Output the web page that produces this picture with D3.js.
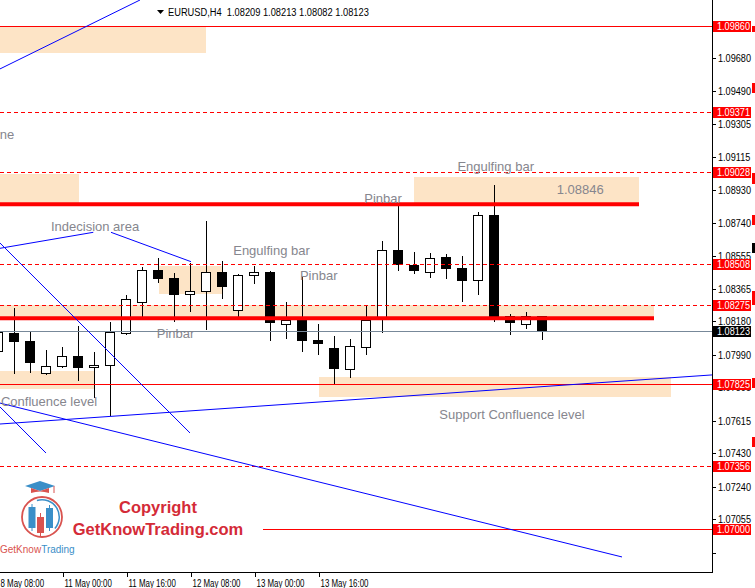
<!DOCTYPE html>
<html lang="en">
<head>
<meta charset="utf-8">
<script src="https://d3js.org/d3.v7.min.js"></script>
<style>
  body { margin: 0; background: #fff; }
  #plot { width: 755px; height: 588px; }
  svg text { font-family: "Liberation Sans", Arial, sans-serif; }
</style>
</head>
<body>
<div id="plot"></div>
<script>
// EURUSD H4 bars, first one is 8 May 08:00
const opens  = [1.08012, 1.08116, 1.08069, 1.07889, 1.07929, 1.07984, 1.07919, 1.07931, 1.08113, 1.08289, 1.08473, 1.08427, 1.08334, 1.08353, 1.08460, 1.08244, 1.08446, 1.08460, 1.08164, 1.08188, 1.08075, 1.08027, 1.07911, 1.08033, 1.08204, 1.08586, 1.08499, 1.08460, 1.08545, 1.08484, 1.08414, 1.08784, 1.08211, 1.08164, 1.08209];
const highs  = [1.08137, 1.08258, 1.08118, 1.08018, 1.08037, 1.08156, 1.08005, 1.08175, 1.08331, 1.08491, 1.08539, 1.08454, 1.08514, 1.08751, 1.08524, 1.08449, 1.08495, 1.08467, 1.08289, 1.08435, 1.08166, 1.08097, 1.08080, 1.08272, 1.08637, 1.08846, 1.08575, 1.08568, 1.08564, 1.08552, 1.08802, 1.08956, 1.08222, 1.08232, 1.08213];
const lows   = [1.08001, 1.07889, 1.07893, 1.07884, 1.07923, 1.07847, 1.07752, 1.07648, 1.08109, 1.08204, 1.08406, 1.08184, 1.08241, 1.08140, 1.08315, 1.08207, 1.08400, 1.08075, 1.08088, 1.08014, 1.07993, 1.07832, 1.07864, 1.07993, 1.08118, 1.08473, 1.08457, 1.08435, 1.08429, 1.08298, 1.08338, 1.08184, 1.08107, 1.08145, 1.08082];
const closes = [1.08118, 1.08065, 1.07946, 1.07927, 1.07984, 1.07917, 1.07932, 1.08118, 1.08306, 1.08473, 1.08423, 1.08332, 1.08353, 1.08460, 1.08378, 1.08443, 1.08460, 1.08170, 1.08188, 1.08071, 1.08050, 1.07910, 1.08040, 1.08188, 1.08586, 1.08499, 1.08469, 1.08539, 1.08480, 1.08412, 1.08784, 1.08207, 1.08173, 1.08211, 1.08123];

// time axis (bar index -> label)
const timeTicks  = [0, 4, 8, 12, 16, 20];
const timeLabels = ["8 May 08:00", "11 May 00:00", "11 May 16:00", "12 May 08:00", "13 May 00:00", "13 May 16:00"];

// price axis
const priceTicks = [1.09680, 1.09490, 1.09305, 1.09115, 1.08930, 1.08740, 1.08555, 1.08365, 1.08180, 1.07990, 1.07805, 1.07615, 1.07430, 1.07240, 1.07055];
const bareTicks  = [1.06865];

// horizontal levels
const solidLevels  = [1.09860, 1.07825, 1.07000];
const solidFrom    = [-5, -5, 16.5];
const dashedLevels = [1.09371, 1.09028, 1.08508, 1.08275, 1.07356];
const thickLevels  = [1.08846, 1.08198];
const thickTo      = [40, 41];
const redTags      = [1.09860, 1.09371, 1.09028, 1.08508, 1.08275, 1.07825, 1.07356, 1.07000];
const bidPrice     = 1.08123;

// supply / demand zones (bar index from/to, price high/low)
const zoneFrom = [-5, -5, 26, 10, -5, -5, 20];
const zoneTo   = [13, 5, 40, 14, 41, 6, 42];
const zoneHigh = [1.09860, 1.09019, 1.09003, 1.08495, 1.08274, 1.07897, 1.07864];
const zoneLow  = [1.09708, 1.08855, 1.08852, 1.08336, 1.08198, 1.07794, 1.07752];

// blue trend lines
const trendI1 = [0.094, 0.094, 7.031, 0.094, 0.094, 0.094, 0.094];
const trendP1 = [1.09616, 1.08596, 1.08687, 1.08626, 1.07694, 1.07716, 1.07597];
const trendI2 = [8.844, 5.925, 12.031, 11.969, 2.969, 38.969, 44.594];
const trendP2 = [1.10008, 1.08687, 1.08520, 1.07546, 1.07432, 1.06841, 1.07876];

// text notes
const noteText = ["Indecision area", "Pinbar", "Engulfing bar", "Pinbar", "Pinbar", "Engulfing bar", "1.08846", "Support Confluence level", "Confluence level", "Trend line"];
const noteI    = [3.28, 9.89, 14.67, 18.84, 22.86, 28.68, 34.89, 27.55, 0.156, 0.987];
const noteP    = [1.08720, 1.08112, 1.08581, 1.08441, 1.08882, 1.09064, 1.08931, 1.07654, 1.07724, 1.09244];

// little price marks on the right edge
const edgeTop   = [1.09860, 1.09536, 1.09024, 1.08785, 1.08626, 1.08353, 1.07859, 1.07523];
const edgeBot   = [1.09826, 1.09479, 1.08962, 1.08728, 1.08569, 1.08274, 1.07802, 1.07466];
const edgeColor = ["red", "red", "red", "red", "black", "red", "red", "red"];

const W = 755, H = 588, plotR = 712, plotB = 572;

const svg = d3.select("#plot").append("svg")
    .attr("width", W)
    .attr("height", H);

const x = d3.scaleLinear().domain([0, 34]).range([-1.5, 542.5]);
const y = d3.scaleLinear().domain([1.07000, 1.09860]).range([529, 26]);
const sy = p => Math.round(y(p)) + 0.5;
const ry = p => Math.round(y(p));

svg.append("defs").append("clipPath").attr("id", "clip")
  .append("rect").attr("width", plotR).attr("height", plotB);

const g = svg.append("g").attr("clip-path", "url(#clip)");

// zones
g.append("g").selectAll("rect")
  .data(zoneFrom.map((f, i) => i))
  .join("rect")
    .attr("x", i => Math.round(x(zoneFrom[i])))
    .attr("width", i => Math.round(x(zoneTo[i])) - Math.round(x(zoneFrom[i])))
    .attr("y", i => ry(zoneHigh[i]))
    .attr("height", i => ry(zoneLow[i]) - ry(zoneHigh[i]))
    .attr("fill", "#fde4c6");

// candles
const candles = opens.map((o, i) => ({i: i, o: o, h: highs[i], l: lows[i], c: closes[i]}));
const cg = g.append("g");
cg.selectAll("line")
  .data(candles)
  .join("line")
    .attr("x1", d => x(d.i)).attr("x2", d => x(d.i))
    .attr("y1", d => ry(d.h)).attr("y2", d => ry(d.l) + 1)
    .attr("stroke", "black");

cg.selectAll("rect.bear")
  .data(candles.filter(d => d.c < d.o))
  .join("rect")
    .attr("class", "bear")
    .attr("x", d => x(d.i) - 5.5)
    .attr("width", 10)
    .attr("y", d => ry(d.o))
    .attr("height", d => Math.max(1, ry(d.c) - ry(d.o)))
    .attr("fill", "black");

cg.selectAll("rect.bull")
  .data(candles.filter(d => d.c >= d.o))
  .join("rect")
    .attr("class", "bull")
    .attr("x", d => x(d.i) - 5)
    .attr("width", 9)
    .attr("y", d => ry(d.c) + 0.5)
    .attr("height", d => Math.max(1, ry(d.o) - ry(d.c)))
    .attr("fill", "white")
    .attr("stroke", "black");

// levels
const lg = g.append("g");
lg.selectAll("line.dash")
  .data(dashedLevels)
  .join("line")
    .attr("class", "dash")
    .attr("x1", 0).attr("x2", plotR)
    .attr("y1", d => sy(d)).attr("y2", d => sy(d))
    .attr("stroke", "red")
    .attr("stroke-dasharray", "4,3");

lg.selectAll("line.solid")
  .data(solidLevels)
  .join("line")
    .attr("class", "solid")
    .attr("x1", (d, i) => Math.max(0, Math.round(x(solidFrom[i])))).attr("x2", plotR)
    .attr("y1", d => sy(d)).attr("y2", d => sy(d))
    .attr("stroke", "red");

lg.append("line")
    .attr("x1", 0).attr("x2", plotR)
    .attr("y1", sy(bidPrice)).attr("y2", sy(bidPrice))
    .attr("stroke", "#778899");

lg.selectAll("line.thick")
  .data(thickLevels)
  .join("line")
    .attr("class", "thick")
    .attr("x1", 0).attr("x2", (d, i) => Math.round(x(thickTo[i])))
    .attr("y1", d => y(d)).attr("y2", d => y(d))
    .attr("stroke", "red")
    .attr("stroke-width", 4);

// trend lines
g.append("g").selectAll("line")
  .data(trendI1.map((v, i) => i))
  .join("line")
    .attr("x1", i => x(trendI1[i])).attr("y1", i => y(trendP1[i]))
    .attr("x2", i => x(trendI2[i])).attr("y2", i => y(trendP2[i]))
    .attr("stroke", "#0000ff")
    .attr("stroke-width", 1);

// notes
g.append("g").selectAll("text")
  .data(noteText)
  .join("text")
    .attr("x", (d, i) => x(noteI[i]))
    .attr("y", (d, i) => y(noteP[i]))
    .attr("dy", "0.35em")
    .attr("text-anchor", (d, i) => i === noteText.length - 1 ? "end" : "start")
    .attr("font-size", 13)
    .attr("fill", "#86868e")
    .text(d => d);

// axes frame
svg.append("line").attr("x1", plotR + 0.5).attr("x2", plotR + 0.5).attr("y1", 0).attr("y2", plotB + 1).attr("stroke", "black");
svg.append("line").attr("x1", 0).attr("x2", plotR + 1).attr("y1", plotB + 0.5).attr("y2", plotB + 0.5).attr("stroke", "black");

// MT4 axis font is narrower than Liberation Sans, so squeeze horizontally
const squeeze = 0.83;
const fmt = d3.format(".5f");
const priceAxis = svg.append("g")
    .attr("transform", `translate(${plotR + 1}, 0)`)
    .call(d3.axisRight(y).tickValues(priceTicks.concat(bareTicks)).tickSize(3).tickPadding(2).offset(0.5)
      .tickFormat(d => bareTicks.includes(d) ? "" : fmt(d)))
    .call(a => a.select(".domain").remove());
priceAxis.selectAll(".tick").attr("transform", d => `translate(0, ${sy(d)})`);
priceAxis.selectAll("text")
    .attr("x", 0)
    .attr("transform", `translate(5,0) scale(${squeeze},1)`)
    .attr("font-family", "Liberation Sans, Arial, sans-serif")
    .attr("font-size", 11)
    .attr("fill", "black");

const timeAxis = svg.append("g")
    .attr("transform", `translate(1, ${plotB + 1})`)
    .call(d3.axisBottom(x).tickValues(timeTicks).tickSize(4).tickPadding(2).offset(0)
      .tickFormat((d, i) => timeLabels[i]))
    .call(a => a.select(".domain").remove());
timeAxis.selectAll("text")
    .attr("text-anchor", "start")
    .attr("x", 0)
    .attr("transform", "translate(1,0) scale(0.72,1)")
    .attr("font-family", "Liberation Sans, Arial, sans-serif")
    .attr("font-size", 11)
    .attr("fill", "black");

// price tags
const tags = svg.append("g");
const tagData = redTags.map(p => ({p: p, c: "red"})).concat([{p: bidPrice, c: "black"}]);
tags.selectAll("rect")
  .data(tagData)
  .join("rect")
    .attr("x", plotR + 1)
    .attr("width", 38)
    .attr("y", d => ry(d.p) - 5)
    .attr("height", 11)
    .attr("fill", d => d.c);
tags.selectAll("text")
  .data(tagData)
  .join("text")
    .attr("transform", d => `translate(${plotR + 5}, ${ry(d.p) + 0.5}) scale(${squeeze},1)`)
    .attr("dy", "0.36em")
    .attr("font-size", 11)
    .attr("fill", "white")
    .text(d => fmt(d.p));

svg.append("g").selectAll("rect")
  .data(edgeTop.map((v, i) => i))
  .join("rect")
    .attr("x", 752)
    .attr("width", 3)
    .attr("y", i => ry(edgeTop[i]))
    .attr("height", i => ry(edgeBot[i]) - ry(edgeTop[i]))
    .attr("fill", i => edgeColor[i]);

// header
svg.append("path").attr("d", "M157,10 L164,10 L160.5,14 Z").attr("fill", "black");
svg.append("text")
    .attr("transform", "translate(168,16) scale(0.845,1)")
    .attr("font-size", 11)
    .attr("fill", "black")
    .style("white-space", "pre")
    .text("EURUSD,H4  " + [opens[34], highs[34], lows[34], closes[34]].map(fmt).join(" "));

// watermark
const wm = svg.append("g");
wm.append("text")
    .attr("x", 158).attr("y", 513)
    .attr("text-anchor", "middle")
    .attr("font-family", "Open Sans, sans-serif")
    .attr("font-weight", 600)
    .attr("font-size", 16.5)
    .attr("fill", "#d42b38")
    .text("Copyright");
wm.append("text")
    .attr("x", 158).attr("y", 535)
    .attr("text-anchor", "middle")
    .attr("font-family", "Open Sans, sans-serif")
    .attr("font-weight", 600)
    .attr("font-size", 16.5)
    .attr("fill", "#d42b38")
    .text("GetKnowTrading.com");

// logo
const logo = svg.append("g");
logo.append("circle").attr("cx", 42).attr("cy", 517).attr("r", 20)
    .attr("fill", "none").attr("stroke", "#d9534f").attr("stroke-width", 1.8);
logo.append("path").attr("d", d3.arc()({innerRadius: 16.5, outerRadius: 18, startAngle: -0.3, endAngle: 2.3}))
    .attr("transform", "translate(42,517)").attr("fill", "#3a8fc8");
logo.append("path").attr("d", "M25,486 L40,481 L55,486 L40,491 Z").attr("fill", "#3a8fc8");
logo.append("path").attr("d", "M31,488 L31,493 Q40,490 49,493 L49,488 L40,491 Z").attr("fill", "#d9534f");
logo.append("line").attr("x1", 54).attr("x2", 54).attr("y1", 486).attr("y2", 493).attr("stroke", "#d9534f");
[[32, 504, 507, 528, 531, "#3a8fc8"], [40.5, 513, 517, 533, 536, "#d9534f"], [49.5, 505, 508, 528, 531, "#3a8fc8"]].forEach(c => {
  logo.append("line").attr("x1", c[0]).attr("x2", c[0]).attr("y1", c[1]).attr("y2", c[4]).attr("stroke", c[5]);
  logo.append("rect").attr("x", c[0] - 3.5).attr("width", 7).attr("y", c[2]).attr("height", c[3] - c[2]).attr("fill", c[5]);
});
const lt = logo.append("text").attr("x", 0).attr("y", 553).attr("font-family", "Open Sans, sans-serif").attr("font-size", 10);
lt.append("tspan").attr("fill", "#d9534f").text("GetKnow");
lt.append("tspan").attr("fill", "#3a8fc8").text("Trading");
</script>
</body>
</html>
